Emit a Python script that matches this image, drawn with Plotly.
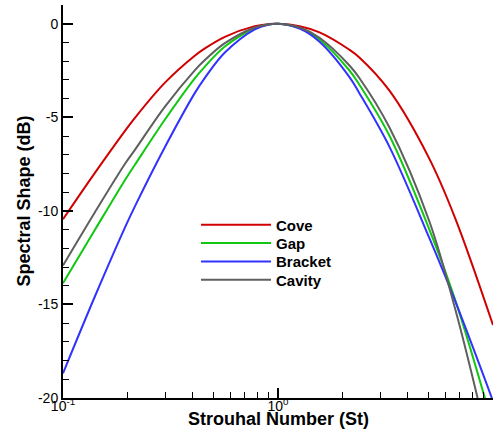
import plotly.graph_objects as go

# Strouhal numbers and spectral shape (dB)
cove_st = [0.1, 0.141, 0.195, 0.216, 0.298, 0.41, 0.457, 0.566, 0.78, 0.9, 1.0, 1.26, 1.56, 2.15, 2.39, 3.3, 5.06, 6.68, 10.0]
cove_db = [-10.45, -7.96, -5.70, -5.03, -3.15, -1.71, -1.32, -0.70, -0.13, -0.02, 0.0, -0.13, -0.46, -1.39, -1.80, -3.58, -7.22, -10.41, -16.1]

gap_st = [0.1, 0.141, 0.195, 0.216, 0.298, 0.41, 0.457, 0.566, 0.78, 0.9, 1.0, 1.26, 1.56, 2.15, 2.39, 3.3, 5.06, 6.68, 9.17]
gap_db = [-13.87, -11.0, -8.32, -7.54, -5.12, -2.92, -2.29, -1.22, -0.24, -0.04, 0.0, -0.23, -0.84, -2.50, -3.26, -5.99, -11.0, -14.78, -20.0]

bracket_st = [0.1, 0.141, 0.195, 0.216, 0.298, 0.41, 0.457, 0.566, 0.78, 0.9, 1.0, 1.26, 1.56, 2.15, 2.39, 3.3, 5.06, 6.68, 9.88]
bracket_db = [-18.68, -14.55, -10.84, -9.76, -6.59, -3.71, -2.89, -1.54, -0.30, -0.05, 0.0, -0.26, -0.96, -2.85, -3.71, -6.58, -11.46, -14.84, -20.0]

cavity_st = [0.1, 0.141, 0.195, 0.216, 0.298, 0.41, 0.457, 0.566, 0.78, 0.9, 1.0, 1.26, 1.56, 2.15, 2.39, 3.3, 5.06, 6.68, 8.48]
cavity_db = [-12.92, -10.06, -7.46, -6.74, -4.43, -2.49, -1.94, -1.04, -0.20, -0.04, 0.0, -0.20, -0.75, -2.23, -2.90, -5.55, -10.57, -15.27, -20.0]

series_names = ["Cove", "Gap", "Bracket", "Cavity"]
series_colors = ["#d00000", "#10c810", "#3232ff", "#5f5f5f"]

x_tickvals = [0.1, 1, 10]
x_ticktext = ["10<sup>-1</sup>", "10<sup>0</sup>", "10<sup>1</sup>"]
x_minorvals = [0.2, 0.3, 0.4, 0.5, 0.6, 0.7, 0.8, 0.9, 2, 3, 4, 5, 6, 7, 8, 9]
y_tickvals = [0, -5, -10, -15, -20]
y_ticktext = ["0", "-5", "-10", "-15", "-20"]

FONT = "Liberation Sans, Arial, sans-serif"
legend_ids = ["legend", "legend2", "legend3", "legend4"]
legend_rows_y = [0.4402, 0.3936, 0.3468, 0.3003]

fig = go.Figure()
data = [(cove_st, cove_db), (gap_st, gap_db), (bracket_st, bracket_db), (cavity_st, cavity_db)]
for (xs, ys), name, color, lid in zip(data, series_names, series_colors, legend_ids):
    fig.add_trace(go.Scatter(
        x=xs, y=ys, mode="lines", name=name, legend=lid,
        line=dict(color=color, width=2, shape="spline", smoothing=1.0),
    ))

legend_common = dict(
    x=0.3093, xanchor="left", yanchor="middle",
    bgcolor="rgba(0,0,0,0)", borderwidth=0,
    font=dict(family=FONT, size=15, color="black", weight="bold"),
    itemwidth=70,
)

fig.update_layout(
    width=499, height=440,
    margin=dict(l=63, r=6, t=5, b=42),
    paper_bgcolor="white", plot_bgcolor="white",
    font=dict(family=FONT, color="black", size=14),
    showlegend=True,
    **{lid: dict(legend_common, y=yy) for lid, yy in zip(legend_ids, legend_rows_y)},
    annotations=[
        dict(text="Strouhal Number (St)", x=0.5, y=0, xref="paper", yref="paper",
             xanchor="center", yanchor="middle", yshift=-21, showarrow=False,
             font=dict(family=FONT, size=18, color="black", weight="bold")),
        dict(text="Spectral Shape (dB)", x=0, y=0.5, xref="paper", yref="paper",
             xanchor="center", yanchor="middle", xshift=-40, textangle=-90, showarrow=False,
             font=dict(family=FONT, size=18, color="black", weight="bold")),
    ],
)

fig.update_xaxes(
    type="log", range=[-1, 1], automargin=False,
    showline=True, linecolor="black", linewidth=2, mirror=False,
    showgrid=False, zeroline=False,
    ticks="inside", ticklen=10, tickwidth=2, tickcolor="black",
    tickvals=x_tickvals, ticktext=x_ticktext, ticklabelstandoff=-6,
    tickfont=dict(family=FONT, size=14, color="black"),
    minor=dict(tickvals=x_minorvals, ticks="inside", ticklen=6, tickwidth=1, tickcolor="black", showgrid=False),
)
fig.update_yaxes(
    range=[-20, 1], automargin=False,
    showline=True, linecolor="black", linewidth=2, mirror=False,
    showgrid=False, zeroline=False,
    ticks="inside", ticklen=10, tickwidth=2, tickcolor="black",
    tickvals=y_tickvals, ticktext=y_ticktext,
    tickfont=dict(family=FONT, size=14, color="black"),
    minor=dict(dtick=1, ticks="inside", ticklen=6, tickwidth=1, tickcolor="black", showgrid=False),
)

fig.write_html("out.html", config={"displayModeBar": False},
               post_script="document.body.style.margin='0px';")
